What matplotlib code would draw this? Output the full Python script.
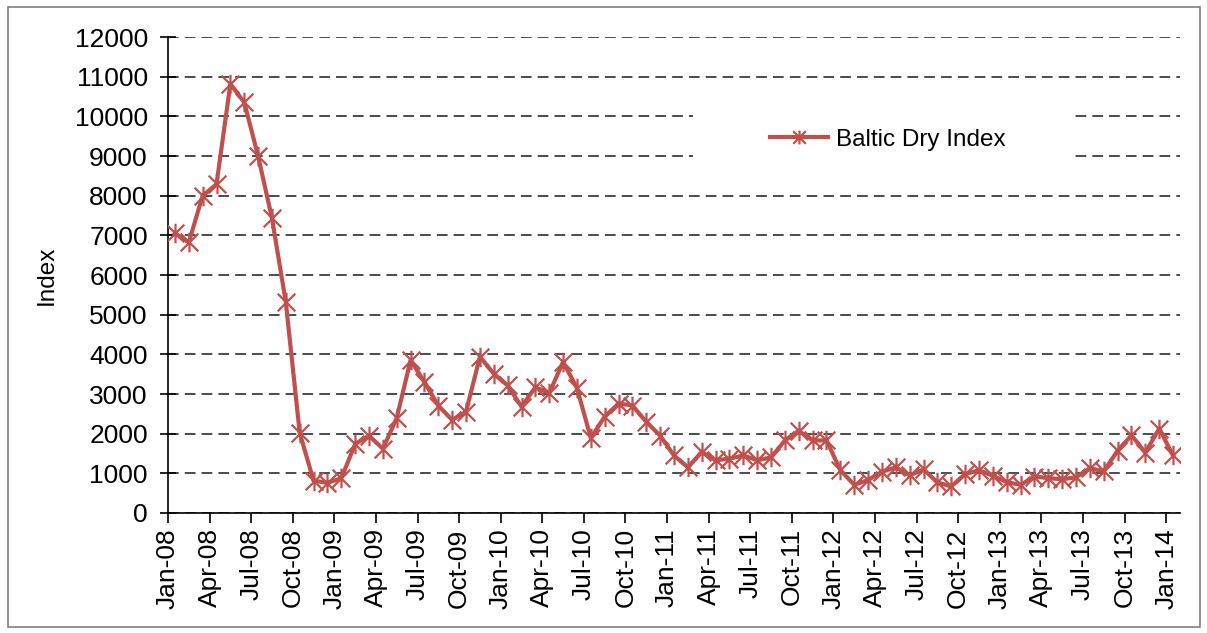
import matplotlib
matplotlib.use("Agg")
import matplotlib.pyplot as plt
import numpy as np
from matplotlib.path import Path
from matplotlib.patches import Rectangle

plt.rcParams['font.family'] = ['Liberation Sans', 'DejaVu Sans']

# Baltic Dry Index, monthly values Jan-08 .. Jan-14
bdi = [7050, 6820, 8000, 8290, 10820, 10350, 9000, 7430, 5310, 2020, 815, 760,
       875, 1740, 1950, 1620, 2395, 3855, 3300, 2705, 2345, 2555, 3940, 3510,
       3215, 2680, 3170, 3020, 3810, 3150, 1890, 2430, 2760, 2710, 2300, 1950,
       1450, 1150, 1540, 1330, 1370, 1450, 1330, 1400, 1830, 2070, 1830, 1830,
       1080, 710, 830, 1040, 1150, 950, 1100, 770, 670, 980, 1080, 940,
       780, 710, 920, 880, 850, 900, 1130, 1050, 1570, 1960, 1520, 2130,
       1450]

tick_labels = ['Jan-08', 'Apr-08', 'Jul-08', 'Oct-08',
               'Jan-09', 'Apr-09', 'Jul-09', 'Oct-09',
               'Jan-10', 'Apr-10', 'Jul-10', 'Oct-10',
               'Jan-11', 'Apr-11', 'Jul-11', 'Oct-11',
               'Jan-12', 'Apr-12', 'Jul-12', 'Oct-12',
               'Jan-13', 'Apr-13', 'Jul-13', 'Oct-13',
               'Jan-14']
y_ticks = list(range(0, 12001, 1000))

red = '#C0504D'

# marqueur "étoile" façon Excel : X + trait vertical
star = Path([(-1, -1), (1, 1), (-1, 1), (1, -1), (0, -1.1), (0, 1.1)],
            [Path.MOVETO, Path.LINETO, Path.MOVETO, Path.LINETO,
             Path.MOVETO, Path.LINETO])

fig = plt.figure(figsize=(12.07, 6.33), dpi=100)
ax = fig.add_axes([168 / 1207, 1 - 513 / 633, (1180 - 168) / 1207, (513 - 37) / 633])

x = np.arange(len(bdi)) + 0.5
ax.plot(x, bdi, color=red, linewidth=3.0, marker=star, markersize=14,
        markeredgewidth=1.6, markerfacecolor='none', markeredgecolor=red,
        label='Baltic Dry Index', zorder=3)

ax.set_xlim(0, len(bdi))
ax.set_ylim(0, 12000)
ax.set_xticks(np.arange(0, len(bdi), 3))
ax.set_xticklabels(tick_labels, rotation=90, fontsize=19)
ax.set_yticks(y_ticks)
ax.set_yticklabels([str(v) for v in y_ticks], fontsize=19)
ax.set_ylabel('Index', fontsize=17.5, labelpad=12)

ax.set_axisbelow(True)
ax.yaxis.grid(True, color='#1a1a1a', linewidth=1.1, linestyle=(0, (7, 4)))
ax.xaxis.grid(False)
for s in ['top', 'right']:
    ax.spines[s].set_visible(False)
ax.spines['left'].set_linewidth(1.2)
ax.spines['bottom'].set_linewidth(1.2)
ax.tick_params(axis='y', direction='inout', length=11, width=1.2, pad=9)
ax.tick_params(axis='x', direction='out', length=7, width=1.2, pad=4)

# fond blanc de la légende
ax.add_patch(Rectangle((0.519, 0.70), 0.377, 0.17, transform=ax.transAxes,
                       facecolor='white', edgecolor='none', zorder=1))
leg = ax.legend(loc='center', bbox_to_anchor=(0.711, 0.784), frameon=False,
                fontsize=17.5, handlelength=2.4, handletextpad=0.3)
for h in leg.legend_handles:
    h.set_markersize(10)

# cadre gris autour de la figure
fig.patches.append(Rectangle((8 / 1207, 6 / 633), 1192 / 1207, 620 / 633,
                             transform=fig.transFigure, fill=False,
                             edgecolor='#7f7f7f', linewidth=1.2))

fig.savefig('out.png', dpi=100)
